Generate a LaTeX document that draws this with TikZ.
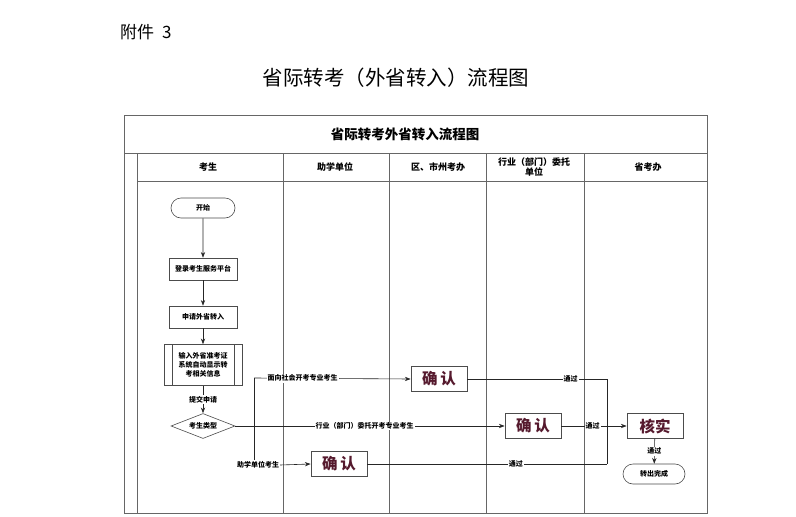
\documentclass[tikz,border=0pt]{standalone}
\usepackage{fontspec}
\setmainfont{Noto Sans CJK SC}
\usetikzlibrary{arrows.meta,calc,shapes.geometric,shapes.misc}
\definecolor{okred}{RGB}{85,25,45}

\begin{document}
\begin{tikzpicture}[x=1pt,y=-1pt,>=Stealth,
  lane/.style={draw=black!60,line width=0.8pt},
  hdr/.style={font=\fontsize{9}{10.5}\selectfont\bfseries},
  flow/.style={draw=black!85,line width=0.6pt},
  stepbox/.style={draw=black!70,fill=white,line width=0.6pt,minimum width=68,minimum height=22,inner sep=1,font=\fontsize{7}{9}\selectfont\bfseries},
  endcap/.style={rounded rectangle,draw=black!70,fill=white,line width=0.6pt,minimum width=66,minimum height=20,inner sep=1,font=\fontsize{7}{9}\selectfont\bfseries},
  okbox/.style={draw=black!70,fill=white,line width=0.8pt,minimum width=56,minimum height=25,inner sep=0,text=okred,font=\fontsize{15.5}{17}\selectfont\bfseries},
  tag/.style={fill=white,inner sep=1,font=\fontsize{7}{8}\selectfont\bfseries}]
  \useasboundingbox (0,0) rectangle (796,517);
  \fill[white] (0,0) rectangle (796,517);
  % page heading
  \node[font=\fontsize{17}{19}\selectfont,anchor=west,inner sep=0] (annex) at (120,32) {附件\hspace{8pt}3};
  \node[font=\fontsize{20.5}{22}\selectfont] (title) at (396,78) {省际转考（外省转入）流程图};
  % table frame and lanes
  \draw[lane] (124,115) rectangle (707,513);
  \draw[lane] (124,153) -- (707,153);
  \draw[lane] (137,153) -- (137,513);
  \draw[lane] (137,181) -- (707,181);
  \foreach \x in {283,389,486,584}
    \draw[lane] (\x,153) -- (\x,513);
  \node[font=\fontsize{13.5}{15}\selectfont\bfseries] (tabtitle) at (405,134) {省际转考外省转入流程图};
  \node[hdr] (hstudent) at (208,167) {考生};
  \node[hdr] (hschool) at (335,167) {助学单位};
  \node[hdr] (hcity) at (438,167) {区、市州考办};
  \node[hdr,align=center] (htrade) at (534,167) {行业（部门）委托\\单位};
  \node[hdr] (hprov) at (648,167) {省考办};
  % candidate lane
  \node[endcap] (start) at (203,208) {开始};
  \node[stepbox] (login) at (203,269) {登录考生服务平台};
  \node[stepbox] (apply) at (203,317) {申请外省转入};
  \node[stepbox,minimum width=78,minimum height=41,align=center] (input) at (203,365)
    {输入外省准考证\\系统自动显示转\\考相关信息};
  \draw[black!70] ($(input.north west)+(8,0)$) -- ($(input.south west)+(8,0)$);
  \draw[black!70] ($(input.north east)+(-8,0)$) -- ($(input.south east)+(-8,0)$);
  \node[diamond,draw=black!70,fill=white,line width=0.6pt,aspect=2.7,minimum width=64,minimum height=25,inner sep=0,font=\fontsize{7}{9}\selectfont\bfseries] (type) at (203,426) {考生类型};
  \draw[flow,->] (start) -- (login);
  \draw[flow,->] (login) -- (apply);
  \draw[flow,->] (apply) -- (input);
  \draw[flow,->] (input) -- node[tag] {提交申请} (type);
  % confirm boxes
  \node[okbox] (ok1) at (439,379) {确\hspace{3pt}认};
  \node[okbox] (ok2) at (533,426) {确\hspace{3pt}认};
  \node[okbox] (ok3) at (339,464) {确\hspace{3pt}认};
  \node[okbox] (check) at (655,426) {核实};
  \node[endcap,minimum width=64] (done) at (654,474) {转出完成};
  % branches of candidate type
  \coordinate (forkup) at (254,378);
  \node[tag] (zxlabel) at (258,465) {助学单位考生};
  \draw[flow] (forkup) -- (forkup |- zxlabel.north);
  \draw[flow,->] (type.east) -- node[tag,pos=0.48] {行业（部门）委托开考专业考生} (ok2.west);
  \draw[flow,->] (forkup) -- node[tag,pos=0.31] {面向社会开考专业考生} (ok1.west);
  \draw[flow,->] (zxlabel.east) -- (ok3.west);
  % to province office
  \coordinate (join1) at (607,379);
  \coordinate (join3) at (607,464);
  \draw[flow] (ok1.east) -- node[tag,pos=0.74] {通过} (join1) -- (join3);
  \draw[flow] (ok3.east) -- node[tag,pos=0.62] {通过} (join3);
  \draw[flow,->] (ok2.east) -- node[tag,pos=0.48] {通过} (check.west);
  \draw[flow,->] (check) -- node[tag] {通过} (done);
\end{tikzpicture}
\end{document}
